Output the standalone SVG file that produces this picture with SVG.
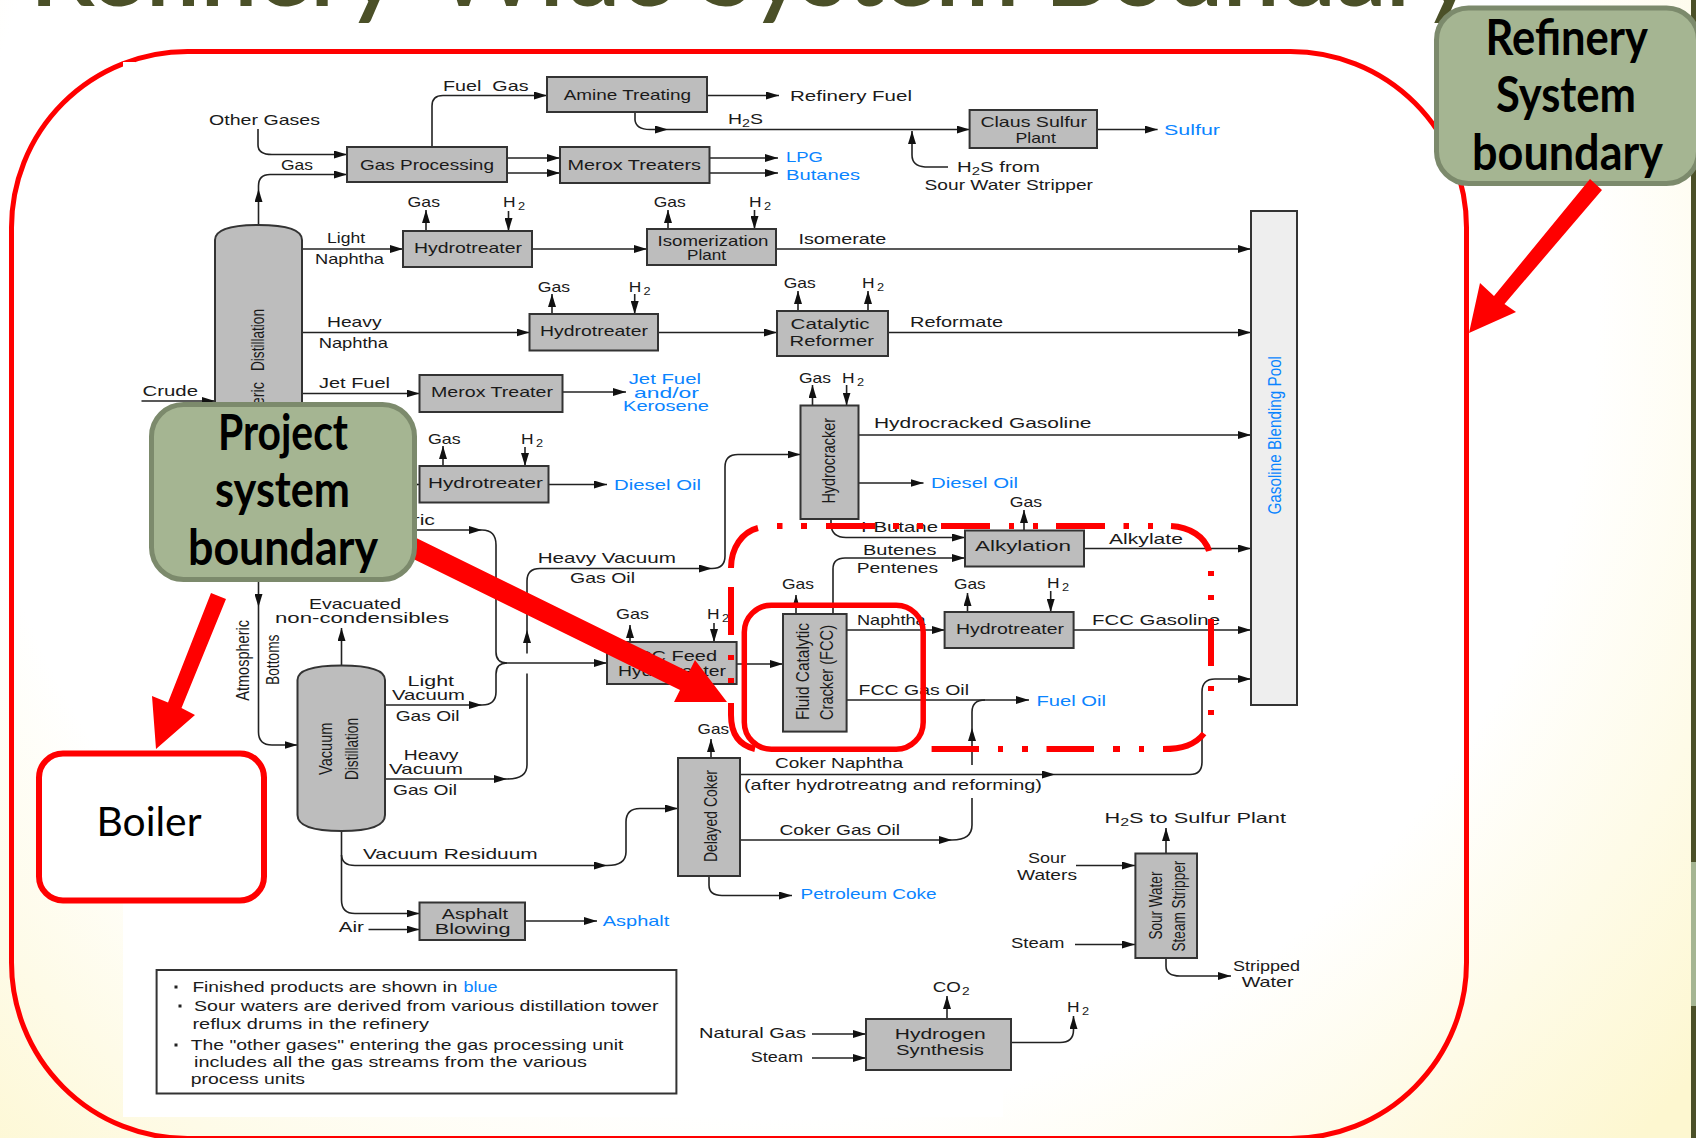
<svg xmlns="http://www.w3.org/2000/svg" width="1696" height="1138" viewBox="0 0 1696 1138">
<style>
text{font-family:"Liberation Sans",Arial,sans-serif;font-size:15px;fill:#1a1a1a}
text.b{fill:#0a84ff}
text.v{font-size:19px}
.s{font-size:11px}
.box{fill:#bdbdbd;stroke:#333;stroke-width:2}
.c path{fill:none;stroke:#222;stroke-width:1.6}
.c path.a{marker-end:url(#a)}
.red{fill:none;stroke:#f00;stroke-width:6}
.call{fill:#a5b592;stroke:#7c8a6c;stroke-width:5}
text.h{font-family:Lato,"Liberation Sans",sans-serif;font-weight:700;font-size:50px;fill:#000}
</style>
<defs>
<radialGradient id="bg" gradientUnits="userSpaceOnUse" cx="780" cy="300" r="1200">
<stop offset="0.68" stop-color="#fff"/><stop offset="1" stop-color="#fdf7d0"/>
</radialGradient>
<marker id="a" markerUnits="userSpaceOnUse" markerWidth="14" markerHeight="8" refX="13" refY="4" orient="auto"><path d="M0 0L13 4L0 8z" fill="#111"/></marker>
</defs>
<rect width="1696" height="1138" fill="url(#bg)"/>
<rect x="123" y="62" width="880" height="1055" fill="#fff"/>
<rect x="1691" width="5" height="1138" fill="#4b5028"/>
<rect x="1691" y="862" width="5" height="144" fill="#a5b592"/>
<text id="title" x="30" y="5" textLength="1445" lengthAdjust="spacingAndGlyphs" stroke="#4b5028" stroke-width="2" style="font-family:Lato,'Liberation Sans',sans-serif;font-size:100px;fill:#4b5028">Refinery-Wide System Boundary</text>
<g id="refinery-boundary"><rect class="red" style="stroke-width:5" x="11.5" y="51.5" width="1455" height="1087" rx="176"/><rect x="123" y="62" width="12" height="8" fill="#fff"/></g>

<g id="connectors" class="c">
<path class="a" d="M432 147V106Q432 95.5 443 95.5H547"/>
<path class="a" d="M707 95.5H779"/>
<path class="a" d="M635 112V120Q636 129.5 650 129.5H668"/>
<path class="a" d="M668 129.5H969.6"/>
<path class="a" d="M258 129V145Q258 154.5 272 154.5H347"/>
<path class="a" d="M258.5 225V189"/>
<path class="a" d="M258.5 189V186Q258.5 174.5 270 174.5H347"/>
<path class="a" d="M507 158H560"/>
<path class="a" d="M507 173H560"/>
<path class="a" d="M709.5 158H778"/>
<path class="a" d="M709.5 173H778"/>
<path class="a" d="M302 249H403"/>
<path class="a" d="M532 249H647"/>
<path class="a" d="M776 249H1251"/>
<path class="a" d="M426 231V210"/>
<path class="a" d="M508.5 211V231"/>
<path class="a" d="M668 229V210"/>
<path class="a" d="M754.5 210V229"/>
<path class="a" d="M302 332.5H529.5"/>
<path class="a" d="M658 332.5H777"/>
<path class="a" d="M888 332.5H1251"/>
<path class="a" d="M552 314V294"/>
<path class="a" d="M634.7 294V314"/>
<path class="a" d="M798 311V291"/>
<path class="a" d="M868 311V291"/>
<path class="a" d="M302 393.5H419.5"/>
<path class="a" d="M562.6 392H626"/>
<path class="a" d="M141.5 401H215"/>
<path class="a" d="M443 466V446"/>
<path class="a" d="M525 447V466"/>
<path class="a" d="M302 484.5H419.5"/>
<path class="a" d="M548.5 484.5H607"/>
<path class="a" d="M302 530H482"/>
<path d="M482 530Q496 530 496 545V652Q496 663 507 663"/>
<path class="a" d="M385 705H482"/>
<path d="M482 705Q496 705 496 692V674Q496 663 507 663"/>
<path class="a" d="M507 663H607"/>
<path class="a" d="M385 779H507"/>
<path d="M507 779Q527 779 527 765V673.5"/>
<path class="a" d="M527 653.5V630"/>
<path class="a" d="M527 630V581Q527 568.5 540 568.5H712"/>
<path class="a" d="M712 568.5Q725 568.5 725 556V467Q725 454.5 738 454.5H800.5"/>
<path class="a" d="M812.5 405.5V385"/>
<path class="a" d="M846.6 385V405.5"/>
<path class="a" d="M858.5 435H1251"/>
<path class="a" d="M858.5 483H923.5"/>
<path class="a" d="M831 519V525Q832 537.5 846 537.5H965"/>
<path class="a" d="M833 614V569Q833 558 845 558H965"/>
<path class="a" d="M796 614V595"/>
<path class="a" d="M1024 530.5V510"/>
<path class="a" d="M1084 548.5H1251"/>
<path class="a" d="M846.6 630H945"/>
<path class="a" d="M967.5 612V593"/>
<path class="a" d="M1050.7 591V612"/>
<path class="a" d="M1073.6 630H1251"/>
<path class="a" d="M846.6 700H1029"/>
<path class="a" d="M740 840H952"/>
<path d="M952 840Q972 840 972 825V798"/>
<path class="a" d="M972 765V728"/>
<path d="M972 728V712Q972 700 985 700"/>
<path class="a" d="M736.6 664H783"/>
<path class="a" d="M630 642V625"/>
<path class="a" d="M714 623V642"/>
<path class="a" d="M341.5 665.5V628"/>
<path class="a" d="M258.5 582V607"/>
<path class="a" d="M258.5 607V732Q258.5 745 272 745H297.5"/>
<path class="a" d="M341.5 831V900Q341.5 913.5 355 913.5H419.5"/>
<path class="a" d="M341.5 855Q342 865.5 355 865.5H607"/>
<path class="a" d="M607 865.5Q626 865.5 626 852V822Q626 808.5 640 808.5H678"/>
<path class="a" d="M368.5 929.5H419.5"/>
<path class="a" d="M525 921H597"/>
<path class="a" d="M711 758V739"/>
<path class="a" d="M709 876V885Q709 895.5 722 895.5H792"/>
<path class="a" d="M740 774.5H1055"/>
<path class="a" d="M1055 774.5H1190Q1202 774.5 1202 762V692Q1202 679 1215 679H1251"/>
<path class="a" d="M1166 853.5V828"/>
<path class="a" d="M1076 865.5H1135"/>
<path class="a" d="M1075 944.5H1135"/>
<path class="a" d="M1166 958V966Q1166 976 1180 976H1231"/>
<path class="a" d="M947 1019V996"/>
<path class="a" d="M1011 1042.5H1060Q1073.5 1042.5 1073.5 1030V1016"/>
<path class="a" d="M812 1034H866"/>
<path class="a" d="M812 1058H866"/>
<path class="a" d="M948 167H925Q912 166 912 155V131"/>
<path class="a" d="M1097 129.5H1157.6"/>
</g>

<g id="connector-labels">
<text x="443" y="91" textLength="85.5" lengthAdjust="spacingAndGlyphs" style="white-space:pre">Fuel  Gas</text>
<text x="209" y="124.7" textLength="111" lengthAdjust="spacingAndGlyphs">Other Gases</text>
<text x="728" y="123.6" textLength="35" lengthAdjust="spacingAndGlyphs">H<tspan class="s" dy="3">2</tspan><tspan dy="-3">S</tspan></text>
<text x="281" y="170" textLength="32" lengthAdjust="spacingAndGlyphs">Gas</text>
<text class="b" x="786" y="162" textLength="37" lengthAdjust="spacingAndGlyphs">LPG</text>
<text class="b" x="786" y="180" textLength="74" lengthAdjust="spacingAndGlyphs">Butanes</text>
<text x="790" y="100.7" textLength="122" lengthAdjust="spacingAndGlyphs">Refinery Fuel</text>
<text x="407.6" y="206.5" textLength="32.4" lengthAdjust="spacingAndGlyphs">Gas</text>
<text x="503" y="206.5" textLength="22" lengthAdjust="spacingAndGlyphs">H<tspan class="s" dx="2" dy="3">2</tspan></text>
<text x="653.7" y="206.5" textLength="32" lengthAdjust="spacingAndGlyphs">Gas</text>
<text x="749" y="206.5" textLength="22" lengthAdjust="spacingAndGlyphs">H<tspan class="s" dx="2" dy="3">2</tspan></text>
<text x="327" y="243" textLength="38" lengthAdjust="spacingAndGlyphs">Light</text>
<text x="315" y="263.6" textLength="69" lengthAdjust="spacingAndGlyphs">Naphtha</text>
<text x="798.4" y="243.6" textLength="88" lengthAdjust="spacingAndGlyphs">Isomerate</text>
<text x="537.7" y="291.6" textLength="32.3" lengthAdjust="spacingAndGlyphs">Gas</text>
<text x="628.7" y="291.6" textLength="22" lengthAdjust="spacingAndGlyphs">H<tspan class="s" dx="2" dy="3">2</tspan></text>
<text x="783.7" y="288.4" textLength="32" lengthAdjust="spacingAndGlyphs">Gas</text>
<text x="862" y="288.4" textLength="22" lengthAdjust="spacingAndGlyphs">H<tspan class="s" dx="2" dy="3">2</tspan></text>
<text x="327" y="327.3" textLength="54.6" lengthAdjust="spacingAndGlyphs">Heavy</text>
<text x="318.7" y="348.4" textLength="69.3" lengthAdjust="spacingAndGlyphs">Naphtha</text>
<text x="910" y="327" textLength="93" lengthAdjust="spacingAndGlyphs">Reformate</text>
<text x="142.5" y="395.6" textLength="55.5" lengthAdjust="spacingAndGlyphs">Crude</text>
<text x="319" y="388.4" textLength="71" lengthAdjust="spacingAndGlyphs">Jet Fuel</text>
<text x="314" y="416" textLength="72" lengthAdjust="spacingAndGlyphs">Kerosene</text>
<text class="b" x="628.7" y="384.4" textLength="72.3" lengthAdjust="spacingAndGlyphs">Jet Fuel</text>
<text class="b" x="634" y="397.5" textLength="65" lengthAdjust="spacingAndGlyphs">and/or</text>
<text class="b" x="623" y="411" textLength="86" lengthAdjust="spacingAndGlyphs">Kerosene</text>
<text x="428" y="443.6" textLength="32.7" lengthAdjust="spacingAndGlyphs">Gas</text>
<text x="521" y="443.6" textLength="22" lengthAdjust="spacingAndGlyphs">H<tspan class="s" dx="2" dy="3">2</tspan></text>
<text class="b" x="614" y="489.5" textLength="87" lengthAdjust="spacingAndGlyphs">Diesel Oil</text>
<text x="799" y="382.5" textLength="32" lengthAdjust="spacingAndGlyphs">Gas</text>
<text x="842" y="382.5" textLength="22" lengthAdjust="spacingAndGlyphs">H<tspan class="s" dx="2" dy="3">2</tspan></text>
<text x="874" y="428.4" textLength="217.5" lengthAdjust="spacingAndGlyphs">Hydrocracked Gasoline</text>
<text class="b" x="931" y="488" textLength="87" lengthAdjust="spacingAndGlyphs">Diesel Oil</text>
<text x="1009.7" y="507.3" textLength="32.3" lengthAdjust="spacingAndGlyphs">Gas</text>
<text x="861" y="532.3" textLength="77" lengthAdjust="spacingAndGlyphs">I-Butane</text>
<text x="1109" y="543.6" textLength="74" lengthAdjust="spacingAndGlyphs">Alkylate</text>
<text x="863" y="555" textLength="73.4" lengthAdjust="spacingAndGlyphs">Butenes</text>
<text x="856.8" y="572.7" textLength="81.2" lengthAdjust="spacingAndGlyphs">Pentenes</text>
<text x="782" y="589" textLength="32" lengthAdjust="spacingAndGlyphs">Gas</text>
<text x="954" y="589" textLength="31.7" lengthAdjust="spacingAndGlyphs">Gas</text>
<text x="1047" y="588" textLength="22" lengthAdjust="spacingAndGlyphs">H<tspan class="s" dx="2" dy="3">2</tspan></text>
<text x="857" y="625" textLength="68.7" lengthAdjust="spacingAndGlyphs">Naphtha</text>
<text x="1092" y="625" textLength="128" lengthAdjust="spacingAndGlyphs">FCC Gasoline</text>
<text x="858.6" y="695" textLength="110.4" lengthAdjust="spacingAndGlyphs">FCC Gas Oil</text>
<text class="b" x="1036.4" y="705.7" textLength="69.6" lengthAdjust="spacingAndGlyphs">Fuel Oil</text>
<text x="537.7" y="563" textLength="138.3" lengthAdjust="spacingAndGlyphs">Heavy Vacuum</text>
<text x="570" y="583.3" textLength="65" lengthAdjust="spacingAndGlyphs">Gas Oil</text>
<text x="317" y="525" textLength="118" lengthAdjust="spacingAndGlyphs">Atmospheric</text>
<text x="616" y="619" textLength="33" lengthAdjust="spacingAndGlyphs">Gas</text>
<text x="707" y="619" textLength="22" lengthAdjust="spacingAndGlyphs">H<tspan class="s" dx="2" dy="3">2</tspan></text>
<text x="309" y="608.7" textLength="92" lengthAdjust="spacingAndGlyphs">Evacuated</text>
<text x="275" y="622.5" textLength="174" lengthAdjust="spacingAndGlyphs">non-condensibles</text>
<text class="v" transform="translate(249,700.7) rotate(-90)" textLength="80.7" lengthAdjust="spacingAndGlyphs">Atmospheric</text>
<text class="v" transform="translate(278.6,685) rotate(-90)" textLength="50.5" lengthAdjust="spacingAndGlyphs">Bottoms</text>
<text x="407.6" y="685.5" textLength="46.4" lengthAdjust="spacingAndGlyphs">Light</text>
<text x="392" y="699.6" textLength="73" lengthAdjust="spacingAndGlyphs">Vacuum</text>
<text x="395.7" y="720.7" textLength="63.9" lengthAdjust="spacingAndGlyphs">Gas Oil</text>
<text x="403.8" y="760" textLength="54.7" lengthAdjust="spacingAndGlyphs">Heavy</text>
<text x="389" y="774" textLength="74" lengthAdjust="spacingAndGlyphs">Vacuum</text>
<text x="393" y="795" textLength="64" lengthAdjust="spacingAndGlyphs">Gas Oil</text>
<text x="363" y="859" textLength="174.7" lengthAdjust="spacingAndGlyphs">Vacuum Residuum</text>
<text x="697.6" y="733.5" textLength="31.4" lengthAdjust="spacingAndGlyphs">Gas</text>
<text x="775" y="768" textLength="128" lengthAdjust="spacingAndGlyphs">Coker Naphtha</text>
<text x="744" y="790" textLength="298" lengthAdjust="spacingAndGlyphs">(after hydrotreatng and reforming)</text>
<text x="779.4" y="834.5" textLength="120.6" lengthAdjust="spacingAndGlyphs">Coker Gas Oil</text>
<text x="338.8" y="931.6" textLength="25.2" lengthAdjust="spacingAndGlyphs">Air</text>
<text class="b" x="602.7" y="926" textLength="66.7" lengthAdjust="spacingAndGlyphs">Asphalt</text>
<text class="b" x="800.5" y="899" textLength="136" lengthAdjust="spacingAndGlyphs">Petroleum Coke</text>
<text x="699" y="1037.8" textLength="107" lengthAdjust="spacingAndGlyphs">Natural Gas</text>
<text x="750.7" y="1061.5" textLength="52.3" lengthAdjust="spacingAndGlyphs">Steam</text>
<text class="b" x="1164" y="134.5" textLength="56" lengthAdjust="spacingAndGlyphs">Sulfur</text>
<text x="957" y="172" textLength="83" lengthAdjust="spacingAndGlyphs">H<tspan class="s" dy="3">2</tspan><tspan dy="-3">S from</tspan></text>
<text x="924.6" y="190" textLength="168.4" lengthAdjust="spacingAndGlyphs">Sour Water Stripper</text>
<text x="1104.5" y="823" textLength="181.5" lengthAdjust="spacingAndGlyphs">H<tspan class="s" dy="3">2</tspan><tspan dy="-3">S to Sulfur Plant</tspan></text>
<text x="1028" y="863" textLength="38" lengthAdjust="spacingAndGlyphs">Sour</text>
<text x="1017" y="879.6" textLength="60" lengthAdjust="spacingAndGlyphs">Waters</text>
<text x="1011" y="948" textLength="53.4" lengthAdjust="spacingAndGlyphs">Steam</text>
<text x="1233" y="970.5" textLength="67" lengthAdjust="spacingAndGlyphs">Stripped</text>
<text x="1241.7" y="987" textLength="52" lengthAdjust="spacingAndGlyphs">Water</text>
<text x="932.7" y="991.6" textLength="37" lengthAdjust="spacingAndGlyphs">CO<tspan class="s" dx="1" dy="3">2</tspan></text>
<text x="1067" y="1012.4" textLength="22" lengthAdjust="spacingAndGlyphs">H<tspan class="s" dx="2" dy="3">2</tspan></text>
</g>

<g id="amine"><rect class="box" x="547" y="77" width="160" height="35"/><text x="563.7" y="100" textLength="127.3" lengthAdjust="spacingAndGlyphs">Amine Treating</text></g>
<g id="gas-processing"><rect class="box" x="347" y="147" width="160" height="35"/><text x="360" y="170" textLength="134" lengthAdjust="spacingAndGlyphs">Gas Processing</text></g>
<g id="merox-treaters"><rect class="box" x="560" y="147" width="149.5" height="36"/><text x="567.5" y="170" textLength="133.5" lengthAdjust="spacingAndGlyphs">Merox Treaters</text></g>
<g id="claus"><rect class="box" x="969.6" y="110" width="127.4" height="38"/><text x="980.4" y="127.3" textLength="106.6" lengthAdjust="spacingAndGlyphs">Claus Sulfur</text><text x="1015.6" y="142.5" textLength="40.2" lengthAdjust="spacingAndGlyphs">Plant</text></g>
<g id="atm-distillation"><path class="box" d="M215 500V240Q215 225 258.5 225Q302 225 302 240V500Z"/><text class="v" transform="translate(264,462) rotate(-90)" textLength="80" lengthAdjust="spacingAndGlyphs">Atmospheric</text><text class="v" transform="translate(264,371) rotate(-90)" textLength="62" lengthAdjust="spacingAndGlyphs">Distillation</text></g>
<g id="hydrotreater-1"><rect class="box" x="403" y="231" width="129" height="36"/><text x="414" y="253" textLength="108" lengthAdjust="spacingAndGlyphs">Hydrotreater</text></g>
<g id="isomerization"><rect class="box" x="647" y="229" width="129" height="36"/><text x="657.5" y="245.5" textLength="111" lengthAdjust="spacingAndGlyphs">Isomerization</text><text x="687" y="260.4" textLength="39" lengthAdjust="spacingAndGlyphs">Plant</text></g>
<g id="hydrotreater-2"><rect class="box" x="529.5" y="314" width="128.5" height="36.5"/><text x="540" y="336.4" textLength="108" lengthAdjust="spacingAndGlyphs">Hydrotreater</text></g>
<g id="reformer"><rect class="box" x="777" y="311" width="111" height="45"/><text x="790.6" y="329" textLength="79" lengthAdjust="spacingAndGlyphs">Catalytic</text><text x="789.6" y="345.5" textLength="84.4" lengthAdjust="spacingAndGlyphs">Reformer</text></g>
<g id="merox-treater"><rect class="box" x="419.5" y="375" width="143" height="37"/><text x="431" y="397" textLength="122" lengthAdjust="spacingAndGlyphs">Merox Treater</text></g>
<g id="hydrotreater-3"><rect class="box" x="419.5" y="466" width="129" height="36.5"/><text x="428" y="488" textLength="115" lengthAdjust="spacingAndGlyphs">Hydrotreater</text></g>
<g id="hydrocracker"><rect class="box" x="800.5" y="405.5" width="58" height="113.5"/><text class="v" transform="translate(834.7,503.6) rotate(-90)" textLength="85.6" lengthAdjust="spacingAndGlyphs">Hydrocracker</text></g>
<g id="pool"><rect class="box" style="fill:#eee" x="1251" y="211" width="46" height="494"/><text class="b v" transform="translate(1280.7,514.5) rotate(-90)" textLength="158.5" lengthAdjust="spacingAndGlyphs">Gasoline Blending Pool</text></g>
<g id="alkylation"><rect class="box" x="965" y="530.5" width="119" height="36"/><text x="975" y="551" textLength="96" lengthAdjust="spacingAndGlyphs">Alkylation</text></g>
<g id="fcc-feed"><rect class="box" x="607" y="642" width="129.6" height="42"/><text x="625" y="660.7" textLength="92" lengthAdjust="spacingAndGlyphs">FCC Feed</text><text x="618" y="675.6" textLength="108" lengthAdjust="spacingAndGlyphs">Hydrotreater</text></g>
<g id="fcc"><rect class="box" x="783" y="614" width="63.6" height="117.6"/><text class="v" transform="translate(808.6,720) rotate(-90)" textLength="97" lengthAdjust="spacingAndGlyphs">Fluid Catalytic</text><text class="v" transform="translate(833,720) rotate(-90)" textLength="95" lengthAdjust="spacingAndGlyphs">Cracker (FCC)</text></g>
<g id="hydrotreater-4"><rect class="box" x="944.6" y="612" width="129" height="36"/><text x="956" y="634" textLength="108" lengthAdjust="spacingAndGlyphs">Hydrotreater</text></g>
<g id="vacuum-distillation"><path class="box" d="M297.5 680Q297.5 665.5 341.5 665.5Q385 665.5 385 680V815Q385 831 341.5 831Q297.5 831 297.5 815Z"/><text class="v" transform="translate(331.7,775) rotate(-90)" textLength="52.5" lengthAdjust="spacingAndGlyphs">Vacuum</text><text class="v" transform="translate(357.7,780) rotate(-90)" textLength="62" lengthAdjust="spacingAndGlyphs">Distillation</text></g>
<g id="delayed-coker"><rect class="box" x="678" y="758" width="62" height="118"/><text class="v" transform="translate(717,862) rotate(-90)" textLength="92" lengthAdjust="spacingAndGlyphs">Delayed Coker</text></g>
<g id="asphalt-blowing"><rect class="box" x="419.5" y="902.5" width="105.5" height="37.5"/><text x="441.7" y="919" textLength="66.3" lengthAdjust="spacingAndGlyphs">Asphalt</text><text x="434.7" y="933.5" textLength="75.9" lengthAdjust="spacingAndGlyphs">Blowing</text></g>
<g id="sour-water"><rect class="box" x="1135.4" y="853.5" width="61.6" height="104.5"/><text class="v" transform="translate(1162,939.6) rotate(-90)" textLength="68" lengthAdjust="spacingAndGlyphs">Sour Water</text><text class="v" transform="translate(1184.8,951.6) rotate(-90)" textLength="91" lengthAdjust="spacingAndGlyphs">Steam Stripper</text></g>
<g id="hydrogen"><rect class="box" x="866" y="1019" width="145" height="51"/><text x="894.8" y="1039" textLength="91" lengthAdjust="spacingAndGlyphs">Hydrogen</text><text x="896" y="1055" textLength="88" lengthAdjust="spacingAndGlyphs">Synthesis</text></g>
<g id="note"><rect x="156.6" y="970" width="519.8" height="123.5" fill="#fff" stroke="#333" stroke-width="2"/>
<rect x="174.5" y="985.5" width="3" height="3" fill="#222"/><rect x="178.5" y="1004.5" width="3" height="3" fill="#222"/><rect x="174.5" y="1043.5" width="3" height="3" fill="#222"/>
<text x="192.4" y="991.6" textLength="265" lengthAdjust="spacingAndGlyphs">Finished products are shown in</text><text class="b" x="463.4" y="991.6" textLength="34" lengthAdjust="spacingAndGlyphs">blue</text>
<text x="194" y="1011" textLength="464.5" lengthAdjust="spacingAndGlyphs">Sour waters are derived from various distillation tower</text>
<text x="192.4" y="1028.7" textLength="236.6" lengthAdjust="spacingAndGlyphs">reflux drums in the refinery</text>
<text x="190.8" y="1049.8" textLength="432.5" lengthAdjust="spacingAndGlyphs">The "other gases" entering the gas processing unit</text>
<text x="194" y="1067" textLength="393" lengthAdjust="spacingAndGlyphs">includes all the gas streams from the various</text>
<text x="190.8" y="1084" textLength="114.2" lengthAdjust="spacingAndGlyphs">process units</text></g>

<g id="project-dashdot">
<path class="red" d="M731 568C731 548 742 532 758 528M777 526H782.5M801 526H807M826 526H875M893 526H899M917 526H923M941 526H990M1009 526H1014M1033 526H1038M1056 526H1105M1123.5 526H1129M1148 526H1153M1171 526C1190 527 1205 537 1209 551M1211 571V576M1211 595V600M1211 619V666M1211 686V691M1211 710V715M1204 733.5C1195 745 1182 749 1163 749M1144 749H1139M1120 749H1113M1094 749H1046.5M1028 749H1022M1003 749H998M979 749H931.6M731 587V635M731 655V660M731 678V683M731 703V715C731 733 738 745 755 749"/>
</g>
<g id="fcc-boundary"><rect class="red" style="stroke-width:5.5" x="744.3" y="605.2" width="178.9" height="144" rx="27"/></g>
<g id="boiler"><rect class="red" style="fill:#fff" x="39" y="753.5" width="225" height="147" rx="24"/><text x="96.5" y="836.4" textLength="105" lengthAdjust="spacingAndGlyphs" style="font-family:Lato,'Liberation Sans',sans-serif;font-size:40px;fill:#000">Boiler</text></g>
<polygon id="project-arrow" fill="#f00" points="400,530 689,672 695,660 727,702 674,702 680,690 395,550"/>
<g id="project-box"><rect class="call" x="151.5" y="404.5" width="263" height="175" rx="32"/>
<text class="h" x="218" y="450" textLength="130" lengthAdjust="spacingAndGlyphs">Project</text>
<text class="h" x="215" y="507" textLength="135" lengthAdjust="spacingAndGlyphs">system</text>
<text class="h" x="188" y="565" textLength="190" lengthAdjust="spacingAndGlyphs">boundary</text></g>
<g id="refinery-box"><rect class="call" x="1436.5" y="8" width="262" height="175.5" rx="32"/>
<text class="h" x="1485.6" y="55" textLength="162.4" lengthAdjust="spacingAndGlyphs">Refinery</text>
<text class="h" x="1496" y="112" textLength="140" lengthAdjust="spacingAndGlyphs">System</text>
<text class="h" x="1472" y="170" textLength="191" lengthAdjust="spacingAndGlyphs">boundary</text></g>
<g id="callout-arrows" fill="#f00">
<polygon points="1590,179 1602,190 1504.5,304 1516,312 1469,333 1480,283 1494,296"/>
<polygon points="211,593 226,599 181.5,708 195,715 156,749 152,696 168,702.5"/>
</g>
</svg>
